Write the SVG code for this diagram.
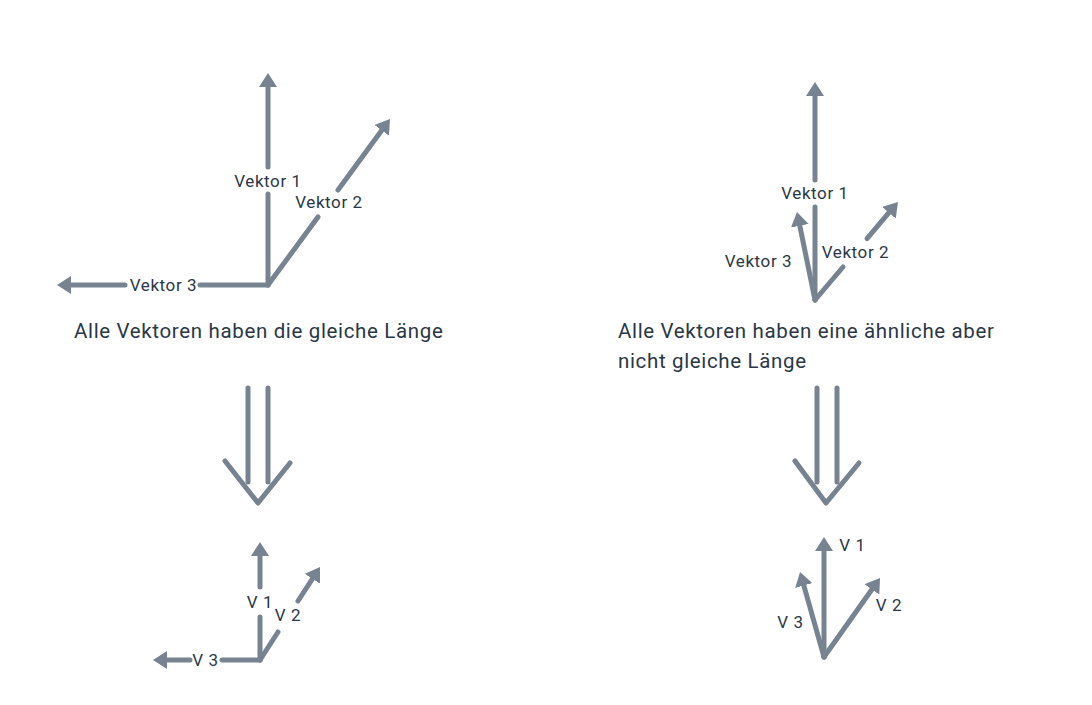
<svg xmlns="http://www.w3.org/2000/svg" width="1092" height="705" viewBox="0 0 1092 705">
<defs>
<marker id="ah" markerUnits="userSpaceOnUse" markerWidth="14" markerHeight="18" viewBox="0 0 14 18" refX="2" refY="9" orient="auto">
<path d="M0,0 L14,9 L0,18 z" fill="#778390"/>
</marker>
<style>
.v{stroke:#778390;stroke-width:5;fill:none;stroke-linecap:round;stroke-linejoin:round}
.a{marker-end:url(#ah)}
.l{font-family:Roboto,"Liberation Sans",sans-serif;font-size:17px;fill:#2a3745;text-anchor:middle;letter-spacing:0.6px}
.c{font-family:Roboto,"Liberation Sans",sans-serif;font-size:20.5px;fill:#2a3745;letter-spacing:0.65px}
</style>
</defs>
<rect width="1092" height="705" fill="#ffffff"/>
<g id="connectors">
<!-- top left -->
<path class="v" d="M268,285 L268,194"/>
<path class="v a" d="M268,167 L268,85"/>
<path class="v" d="M268,285 L318,217"/>
<path class="v a" d="M338,190 L382.9,128.7"/>
<path class="v" d="M268,285 L200,285"/>
<path class="v a" d="M125,285 L69,285"/>
<!-- top right -->
<path class="v" d="M815,300 L815,207"/>
<path class="v a" d="M815,180 L815,94"/>
<path class="v a" d="M815,300 L799.4,223.8"/>
<path class="v" d="M815,300 L843,267"/>
<path class="v a" d="M867,238.6 L890.2,211.2"/>
<!-- double arrows -->
<path class="v" d="M248,388 L248,482 M268,388 L268,482"/>
<path class="v" d="M225,461 L258,503 L290,463"/>
<path class="v" d="M817,388 L817,482 M837,388 L837,482"/>
<path class="v" d="M795,461 L826,503 L859,463"/>
<!-- bottom left -->
<path class="v" d="M260,660 L260,617"/>
<path class="v a" d="M260,587 L260,554"/>
<path class="v" d="M260,660 L278,632"/>
<path class="v a" d="M298,601 L313.5,577.1"/>
<path class="v" d="M260,660 L222,660"/>
<path class="v a" d="M190,660 L165,660"/>
<!-- bottom right -->
<path class="v a" d="M824,657 L824,549"/>
<path class="v a" d="M824,657 L873.1,587.8"/>
<path class="v a" d="M824,657 L803.3,583.6"/>
</g>
<g id="label-top-left">
<text class="l" x="268" y="187">Vektor 1</text>
<text class="l" x="329" y="208">Vektor 2</text>
<text class="l" x="163.5" y="291">Vektor 3</text>
</g>
<g id="label-top-right">
<text class="l" x="815" y="199">Vektor 1</text>
<text class="l" x="855.5" y="258">Vektor 2</text>
<text class="l" x="758.5" y="267">Vektor 3</text>
</g>
<g id="caption-left">
<text class="c" x="74" y="338">Alle Vektoren haben die gleiche Länge</text>
</g>
<g id="caption-right">
<text class="c" x="618" y="338">Alle Vektoren haben eine ähnliche aber</text>
<text class="c" x="618" y="368">nicht gleiche Länge</text>
</g>
<g id="label-bottom-left">
<text class="l" x="260" y="608">V 1</text>
<text class="l" x="288" y="621">V 2</text>
<text class="l" x="205.5" y="666">V 3</text>
</g>
<g id="label-bottom-right">
<text class="l" x="852.5" y="551">V 1</text>
<text class="l" x="889" y="611">V 2</text>
<text class="l" x="790.5" y="628">V 3</text>
</g>
</svg>
